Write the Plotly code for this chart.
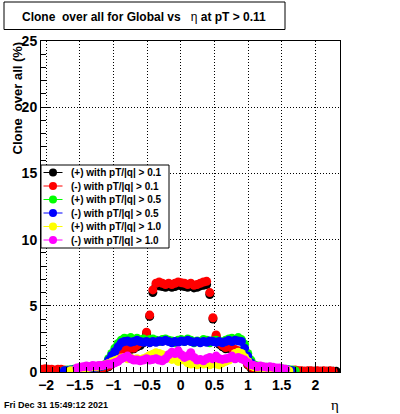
import numpy as np
import plotly.graph_objects as go

# ---------------- data ----------------
# eta bin centres (x categories)
eta = np.round(-2.059 + 0.047 * np.arange(94), 3)

N = None
black_plus_01 = [
    0.10, 0.15, 0.10, 0.10, 0.10, 0.10, 0.10, 0.05, 0.05, 0.05,
    0.10, 0.10, 0.15, 0.15, 0.20, 0.20, 0.20, 0.25, 0.25, 0.25,
    0.30, 0.40, 0.60, 0.90, 1.20, 1.45, 1.55, 1.60, 1.70, 1.75,
    1.90, 2.00, 2.20, 2.90, 4.20, 6.00, 6.50, 6.50, 6.45, 6.40,
    6.50, 6.40, 6.45, 6.55, 6.50, 6.45, 6.40, 6.50, 6.35, 6.40,
    6.50, 6.55, 6.60, 5.85, 4.00, 2.70, 2.10, 1.90, 1.75, 1.80,
    1.70, 1.60, 1.50, 1.40, 1.10, 0.55, 0.30, 0.25, 0.20, 0.20,
    0.15, 0.15, 0.15, 0.10, 0.10, 0.10, 0.10, 0.05, 0.05, 0.05,
    0.10, 0.05, 0.05, 0.05, 0.05, 0.05, 0.05, 0.05, 0.05, 0.05,
    0.05, 0.05, 0.05, 0.05]
red_minus_01 = [
    0.20, 0.25, 0.20, 0.20, 0.15, 0.20, 0.20, 0.15, 0.05, 0.05,
    0.10, 0.15, 0.20, 0.20, 0.25, 0.20, 0.25, 0.30, 0.25, 0.30,
    0.35, 0.45, 0.60, 0.90, 1.20, 1.60, 1.70, 1.75, 1.80, 1.80,
    2.00, 2.20, 2.30, 3.00, 4.30, 6.20, 6.70, 6.80, 6.70, 6.60,
    6.70, 6.60, 6.70, 6.80, 6.75, 6.70, 6.60, 6.70, 6.55, 6.60,
    6.70, 6.80, 6.85, 6.00, 4.10, 2.80, 2.20, 2.00, 1.85, 1.90,
    1.80, 1.70, 1.60, 1.50, 1.20, 0.60, 0.35, 0.30, 0.25, 0.25,
    0.20, 0.20, 0.20, 0.15, 0.15, 0.15, 0.10, 0.10, 0.10, 0.10,
    0.15, 0.10, 0.10, 0.05, 0.10, 0.10, 0.05, 0.10, 0.05, 0.10,
    0.05, 0.10, 0.05, N]
green_plus_05 = [
    N, N, N, N, N, N, N, 0.10, 0.15, 0.15,
    0.20, 0.20, 0.25, 0.25, 0.30, 0.30, 0.35, 0.35, 0.40, 0.45,
    0.60, 1.00, 1.40, 1.80, 2.15, 2.40, 2.55, 2.50, 2.60, 2.45,
    2.55, 2.40, 2.50, 2.35, 2.45, 2.50, 2.40, 2.30, 2.45, 2.50,
    2.40, 2.35, 2.20, 2.40, 2.45, 2.30, 2.50, 2.40, 2.20, 2.35,
    2.30, 2.45, 2.40, 2.20, 2.35, 2.40, 2.30, 2.25, 2.40, 2.50,
    2.55, 2.45, 2.60, 2.45, 2.10, 1.40, 0.90, 0.55, 0.45, 0.40,
    0.35, 0.35, 0.30, 0.30, 0.25, 0.25, 0.20, 0.20, 0.15, 0.15,
    0.10, N, N, N, N, N, N, N, N, N,
    N, N, N, N]
blue_minus_05 = [
    N, N, N, N, N, N, N, 0.10, 0.10, 0.15,
    0.15, 0.20, 0.20, 0.25, 0.25, 0.30, 0.30, 0.35, 0.40, 0.45,
    0.50, 0.90, 1.25, 1.55, 1.90, 2.20, 2.30, 2.35, 2.25, 2.30,
    2.40, 2.30, 2.25, 2.30, 2.20, 2.30, 2.25, 2.35, 2.30, 2.40,
    2.30, 2.20, 2.30, 2.25, 2.35, 2.30, 2.40, 2.30, 2.25, 2.30,
    2.20, 2.30, 2.25, 2.35, 2.30, 2.25, 2.30, 2.20, 2.30, 2.40,
    2.30, 2.40, 2.35, 2.30, 1.80, 1.20, 0.70, 0.45, 0.40, 0.35,
    0.30, 0.30, 0.30, 0.25, 0.25, 0.20, 0.20, 0.15, 0.15, 0.10,
    N, N, N, N, N, N, N, N, N, N,
    N, N, N, N]
yellow_plus_10 = [
    N, N, N, N, N, N, N, N, N, 0.10,
    0.10, 0.20, 0.25, 0.30, 0.30, 0.35, 0.40, 0.40, 0.45, 0.50,
    0.55, 0.65, 0.75, 0.85, 0.95, 1.05, 1.10, 1.00, 1.05, 0.95,
    1.00, 0.90, 1.00, 1.10, 1.25, 1.35, 1.45, 1.40, 1.30, 1.10,
    1.20, 0.95, 1.05, 0.80, 1.10, 0.90, 0.70, 0.60, 0.65, 0.55,
    0.70, 0.60, 0.65, 0.55, 0.70, 0.60, 0.55, 0.70, 0.80, 0.90,
    1.10, 1.40, 1.50, 1.40, 1.10, 0.80, 0.50, 0.40, 0.35, 0.35,
    0.30, 0.30, 0.25, 0.25, 0.20, 0.20, 0.15, 0.15, 0.10, N,
    N, N, N, N, N, N, N, N, N, N,
    N, N, N, N]
magenta_minus_10 = [
    N, N, N, N, N, N, N, N, N, N,
    N, 0.30, 0.35, 0.40, 0.45, 0.40, 0.50, 0.45, 0.50, 0.50,
    0.55, 0.60, 0.60, 0.70, 0.80, 1.00, 1.10, 1.20, 1.00, 0.90,
    0.90, 0.85, 0.90, 1.00, 0.90, 0.95, 1.00, 0.90, 0.85, 1.00,
    1.30, 1.50, 1.40, 1.60, 1.30, 1.10, 1.20, 1.45, 1.10, 0.90,
    0.95, 0.85, 1.00, 1.10, 1.00, 1.20, 1.00, 0.95, 1.00, 1.05,
    1.20, 1.00, 1.10, 1.00, 0.90, 0.70, 0.55, 0.50, 0.40, 0.45,
    0.40, 0.35, 0.40, 0.35, 0.30, 0.30, 0.25, 0.20, N, N,
    N, N, N, N, N, N, N, N, N, N,
    N, N, N, N]

series_names = ["(+) with pT/|q| > 0.1", "(-) with pT/|q| > 0.1",
                "(+) with pT/|q| > 0.5", "(-) with pT/|q| > 0.5",
                "(+) with pT/|q| > 1.0", "(-) with pT/|q| > 1.0"]
series_values = [black_plus_01, red_minus_01, green_plus_05,
                 blue_minus_05, yellow_plus_10, magenta_minus_10]
series_colors = ["#000000", "#ff0000", "#00ff00", "#0000ff", "#ffff00", "#ff00ff"]

x_range = [-2.076, 2.367]
y_range = [0, 25]

# ---------------- layout geometry ----------------
W, H = 400, 414
L, R, T, B = 41, 60, 41, 42
PW, PH = W - L - R, H - T - B
FONT = "Liberation Sans"


def px(xp):
    return (xp - L) / PW


def py(yp):
    return (H - B - yp) / PH


fig = go.Figure()
for name, vals, col in zip(series_names, series_values, series_colors):
    fig.add_trace(go.Scatter(
        x=eta, y=vals, mode="markers", name=name,
        marker=dict(color=col, size=9, line=dict(width=0)),
        showlegend=False, cliponaxis=True))

shapes = []
annotations = []

# title box
shapes.append(dict(type="rect", xref="paper", yref="paper",
                   x0=px(4), x1=px(285), y0=py(29.5), y1=py(2),
                   line=dict(color="black", width=1), fillcolor="white", layer="above"))
annotations.append(dict(
    xref="paper", yref="paper", x=px(144), y=py(17.5), xanchor="center", yanchor="middle",
    text="<b>Clone\u00a0 over all for Global vs\u00a0\u00a0 </b>η<b> at pT > 0.11</b>",
    showarrow=False, font=dict(family=FONT, size=12, color="black")))

# y title
annotations.append(dict(
    xref="paper", yref="paper", x=px(16.5), y=py(98), xanchor="center", yanchor="middle",
    text="<b>Clone\u00a0 over all (%)</b>", textangle=-90, showarrow=False,
    font=dict(family=FONT, size=13, color="black")))

# legend box
shapes.append(dict(type="rect", xref="paper", yref="paper",
                   x0=px(41), x1=px(169), y0=py(248), y1=py(165),
                   line=dict(color="black", width=1), fillcolor="white", layer="above"))
for i, (name, col) in enumerate(zip(series_names, series_colors)):
    ry = 172.5 + 13.5 * i
    shapes.append(dict(type="line", xref="paper", yref="paper",
                       x0=px(43.5), x1=px(62.5), y0=py(ry), y1=py(ry),
                       line=dict(color=col, width=1), layer="above"))
    shapes.append(dict(type="circle", xref="paper", yref="paper",
                       x0=px(49), x1=px(57), y0=py(ry + 4), y1=py(ry - 4),
                       fillcolor=col, line=dict(width=0), layer="above"))
    annotations.append(dict(
        xref="paper", yref="paper", x=px(69), y=py(ry), xanchor="left", yanchor="middle",
        text="<b>%s</b>" % name, showarrow=False,
        font=dict(family=FONT, size=10, color="black")))

# date stamp
annotations.append(dict(
    xref="paper", yref="paper", x=px(2), y=py(405), xanchor="left", yanchor="middle",
    text="<b>Fri Dec 31 15:49:12 2021</b>", showarrow=False,
    font=dict(family=FONT, size=9, color="black")))
# x title
annotations.append(dict(
    xref="paper", yref="paper", x=px(335), y=py(405), xanchor="center", yanchor="middle",
    text="η", showarrow=False, font=dict(family="Liberation Serif", size=15, color="black")))

axis_common = dict(
    showline=True, linecolor="black", linewidth=1, mirror=True,
    ticks="inside", tickcolor="black", tickwidth=1,
    showgrid=True, gridcolor="black", gridwidth=1, griddash="1px,2px",
    zeroline=False,
    tickfont=dict(family=FONT, size=14, color="black", weight="bold"),
)

fig.update_layout(
    width=W, height=H,
    margin=dict(l=L, r=R, t=T, b=B, pad=0),
    paper_bgcolor="white", plot_bgcolor="white",
    showlegend=False,
    xaxis=dict(range=x_range, tick0=0, dtick=0.5, ticklen=10,
               minor=dict(dtick=0.1, tick0=0, ticks="inside", ticklen=5,
                          tickcolor="black", showgrid=False),
               **axis_common),
    yaxis=dict(range=y_range, tick0=0, dtick=5, ticklen=9,
               minor=dict(dtick=1, tick0=0, ticks="inside", ticklen=4.5,
                          tickcolor="black", showgrid=False),
               **axis_common),
    shapes=shapes, annotations=annotations,
)

fig.write_html("out.html", config={"displayModeBar": False},
               post_script="document.body.style.margin='0';document.body.style.padding='0';")
